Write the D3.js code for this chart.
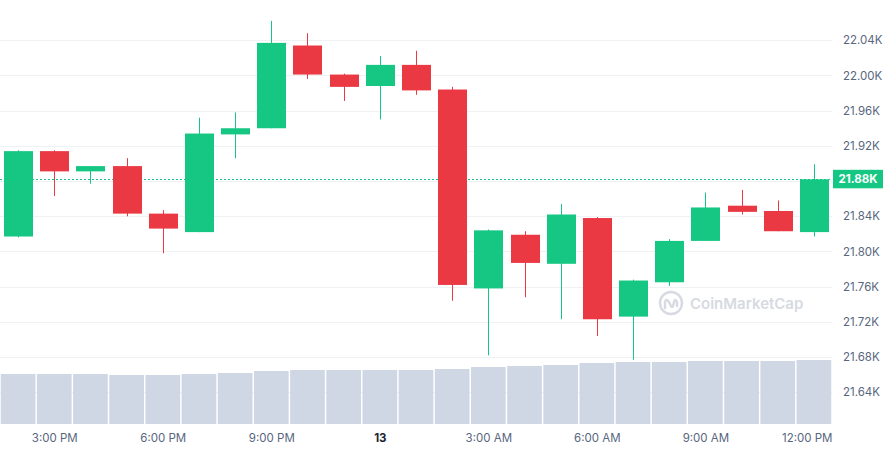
<!DOCTYPE html>
<html>
<head>
<meta charset="utf-8">
<script src="https://cdn.jsdelivr.net/npm/d3@7"></script>
<style>
  body { margin: 0; background: #fff; }
  svg { display: block; font-family: Inter, "Noto Sans", sans-serif; }
</style>
</head>
<body>
<div id="chart"></div>
<script>
// hourly BTC candles
var hours = [
  "2022-08-12T14:00", "2022-08-12T15:00", "2022-08-12T16:00", "2022-08-12T17:00",
  "2022-08-12T18:00", "2022-08-12T19:00", "2022-08-12T20:00", "2022-08-12T21:00",
  "2022-08-12T22:00", "2022-08-12T23:00", "2022-08-13T00:00", "2022-08-13T01:00",
  "2022-08-13T02:00", "2022-08-13T03:00", "2022-08-13T04:00", "2022-08-13T05:00",
  "2022-08-13T06:00", "2022-08-13T07:00", "2022-08-13T08:00", "2022-08-13T09:00",
  "2022-08-13T10:00", "2022-08-13T11:00", "2022-08-13T12:00"
];
var openP  = [21817, 21914, 21891, 21897, 21843, 21822, 21933, 21940, 22034, 22001, 21988, 22012,
              21984, 21758, 21819, 21786, 21838, 21726, 21765, 21812, 21852, 21846, 21822];
var highP  = [21915, 21915, 21897, 21906, 21847, 21952, 21958, 22062, 22048, 22002, 22022, 22028,
              21987, 21825, 21823, 21854, 21839, 21768, 21814, 21867, 21870, 21858, 21899];
var lowP   = [21816, 21863, 21877, 21840, 21798, 21822, 21906, 21940, 21996, 21971, 21950, 21978,
              21744, 21682, 21748, 21723, 21704, 21677, 21761, 21812, 21842, 21823, 21817];
var closeP = [21914, 21891, 21897, 21843, 21826, 21934, 21940, 22037, 22001, 21987, 22012, 21983,
              21762, 21824, 21787, 21842, 21723, 21767, 21812, 21850, 21845, 21823, 21882];
// volume in billions USD
var volume = [25.0, 25.0, 25.0, 24.5, 24.5, 25.0, 25.5, 26.5, 27.0, 27.0, 27.0, 27.0,
              27.5, 28.5, 29.0, 29.5, 30.5, 31.0, 31.0, 31.5, 31.5, 31.5, 32.0];
var priceTicks = [21640, 21680, 21720, 21760, 21800, 21840, 21880, 21920, 21960, 22000, 22040];
var timeTicks = ["2022-08-12T15:00", "2022-08-12T18:00", "2022-08-12T21:00", "2022-08-13T00:00",
                 "2022-08-13T03:00", "2022-08-13T06:00", "2022-08-13T09:00", "2022-08-13T12:00"];
var lastPrice = 21882;

var width = 889;
var height = 450;
var plotRight = 832;
var plotBottom = 424;

var green = "#16c784";
var red = "#ea3943";

var parse = d3.timeParse("%Y-%m-%dT%H:%M");
var candles = hours.map(function(h, i) {
  return { t: parse(h), o: openP[i], h: highP[i], l: lowP[i], c: closeP[i], v: volume[i] };
});

var svg = d3.select("#chart")
  .append("svg")
  .attr("width", width)
  .attr("height", height);

var x = d3.scaleTime()
  .domain([parse("2022-08-12T13:30"), parse("2022-08-13T12:30")])
  .range([0, plotRight]);

var y = d3.scaleLinear()
  .domain([21604, 22085.7])
  .range([plotBottom, 0]);

var vy = d3.scaleLinear()
  .domain([0, 32.5])
  .range([plotBottom, plotBottom - 65]);

var step = x(parse("2022-08-12T15:00")) - x(parse("2022-08-12T14:00"));
var bodyW = 29;

// grid
svg.append("g")
  .selectAll("line")
  .data(priceTicks)
  .join("line")
  .attr("x1", 0)
  .attr("x2", plotRight)
  .attr("y1", function(d) { return Math.round(y(d)) + 0.5; })
  .attr("y2", function(d) { return Math.round(y(d)) + 0.5; })
  .attr("stroke", "#eff2f5")
  .attr("stroke-width", 1);

// volume
svg.append("g")
  .selectAll("rect")
  .data(candles)
  .join("rect")
  .attr("x", function(d) { return x(d.t) - step / 2 + 0.75; })
  .attr("width", step - 1.5)
  .attr("y", function(d) { return vy(d.v); })
  .attr("height", function(d) { return vy(0) - vy(d.v); })
  .attr("fill", "#cfd6e4");

// watermark
var wm = svg.append("g").attr("transform", "translate(671,303)").attr("opacity", 0.9);
wm.append("circle").attr("r", 11).attr("fill", "none").attr("stroke", "#d3d7de").attr("stroke-width", 2.4);
wm.append("path")
  .attr("d", "M-6,5 L-6,-1 Q-5,-5 -2,-1 L0,3 Q2,6 3,-1 Q4,-5 6,-1 L6,3")
  .attr("fill", "none").attr("stroke", "#d3d7de").attr("stroke-width", 2.4)
  .attr("stroke-linecap", "round").attr("stroke-linejoin", "round");
wm.append("text")
  .attr("x", 19)
  .attr("y", 5.5)
  .attr("fill", "#d3d7de")
  .attr("font-size", "15px")
  .attr("font-weight", 600)
  .text("CoinMarketCap");

// last price line
svg.append("line")
  .attr("x1", 0)
  .attr("x2", plotRight)
  .attr("y1", Math.round(y(lastPrice)) + 0.5)
  .attr("y2", Math.round(y(lastPrice)) + 0.5)
  .attr("stroke", green)
  .attr("stroke-width", 1)
  .attr("stroke-dasharray", "2,2");

// candles
var cg = svg.append("g")
  .selectAll("g")
  .data(candles)
  .join("g")
  .attr("fill", function(d) { return d.c >= d.o ? green : red; })
  .attr("stroke", function(d) { return d.c >= d.o ? green : red; });

cg.append("line")
  .attr("x1", function(d) { return Math.round(x(d.t)) + 0.5; })
  .attr("x2", function(d) { return Math.round(x(d.t)) + 0.5; })
  .attr("y1", function(d) { return y(d.h); })
  .attr("y2", function(d) { return y(d.l); })
  .attr("stroke-width", 1);

cg.append("rect")
  .attr("x", function(d) { return Math.round(x(d.t)) + 0.5 - bodyW / 2; })
  .attr("width", bodyW)
  .attr("y", function(d) { return y(Math.max(d.o, d.c)); })
  .attr("height", function(d) { return Math.max(1, Math.abs(y(d.o) - y(d.c))); })
  .attr("stroke", "none");

// price axis (the tick under the price tag is hidden by the tag)
var yAxis = svg.append("g")
  .attr("transform", "translate(" + plotRight + ",0)")
  .call(d3.axisRight(y)
    .tickValues(priceTicks.filter(function(d) { return Math.abs(y(d) - y(lastPrice)) > 12; }))
    .tickSize(0)
    .tickPadding(11)
    .tickFormat(function(d) { return (d / 1000).toFixed(2) + "K"; }));
yAxis.select(".domain").remove();
yAxis.selectAll("text")
  .attr("fill", "#58667e")
  .attr("font-size", "11.5px")
  .attr("font-family", "Inter, sans-serif");

// last price tag
var tag = svg.append("g").attr("transform", "translate(833," + y(lastPrice) + ")");
tag.append("rect")
  .attr("x", 0).attr("y", -9.5)
  .attr("width", 50).attr("height", 18.5)
  .attr("fill", green);
tag.append("text")
  .attr("x", 25).attr("y", 0)
  .attr("dy", "0.35em")
  .attr("text-anchor", "middle")
  .attr("fill", "#fff")
  .attr("font-size", "11.5px")
  .attr("font-weight", 700)
  .text((lastPrice / 1000).toFixed(2) + "K");

// time axis
var fmtHour = d3.timeFormat("%-I:%M %p");
var fmtDay = d3.timeFormat("%-d");
var xAxis = svg.append("g")
  .attr("transform", "translate(0," + plotBottom + ")")
  .call(d3.axisBottom(x)
    .tickValues(timeTicks.map(parse))
    .tickSize(0)
    .tickPadding(10)
    .tickFormat(function(d) { return d.getHours() === 0 ? fmtDay(d) : fmtHour(d); }));
xAxis.select(".domain").remove();
xAxis.selectAll("text")
  .attr("fill", function(d) { return d.getHours() === 0 ? "#222531" : "#58667e"; })
  .attr("font-weight", function(d) { return d.getHours() === 0 ? 700 : 400; })
  .attr("font-size", "11.5px")
  .attr("font-family", "Inter, sans-serif");
// keep the last label inside the plot
xAxis.selectAll(".tick:last-of-type text")
  .attr("text-anchor", "end")
  .attr("x", plotRight - x(parse("2022-08-13T12:00")));
</script>
</body>
</html>
